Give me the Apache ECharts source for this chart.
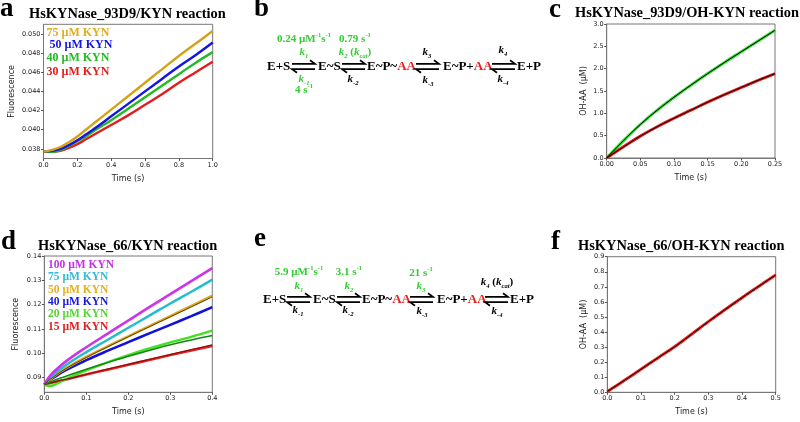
<!DOCTYPE html>
<html><head><meta charset="utf-8">
<script src="https://cdn.jsdelivr.net/npm/echarts@6/dist/echarts.min.js"></script>
<style>html,body{margin:0;padding:0;background:#fff}#c{width:800px;height:422px}</style>
</head><body><div id="c"></div>
<script>
// ---------- DATA ----------
// Panel a: HsKYNase_93D9 / KYN (fluorescence vs time)
const timeA = [0, 0.05, 0.1, 0.15, 0.2, 0.25, 0.3, 0.4, 0.5, 0.6, 0.7, 0.8, 0.9, 1.0];
const a75 = [0.0377, 0.0379, 0.0382, 0.0387, 0.0393, 0.0400, 0.0407, 0.0421, 0.0435, 0.0449, 0.0463, 0.0477, 0.0490, 0.0503];
const a50 = [0.0377, 0.0378, 0.0380, 0.0384, 0.0389, 0.0395, 0.0401, 0.0414, 0.0427, 0.0440, 0.0453, 0.0466, 0.0478, 0.0491];
const a40 = [0.0377, 0.0377, 0.0379, 0.0383, 0.0388, 0.0393, 0.0399, 0.0410, 0.0422, 0.0434, 0.0446, 0.0458, 0.0470, 0.0481];
const a30 = [0.0377, 0.0377, 0.0378, 0.0381, 0.0385, 0.0390, 0.0395, 0.0405, 0.0415, 0.0426, 0.0437, 0.0449, 0.0460, 0.0471];
const yTicksA = [0.038, 0.040, 0.042, 0.044, 0.046, 0.048, 0.050];
const legendA = ['75 µM KYN', '50 µM KYN', '40 µM KYN', '30 µM KYN'];

// Panel c: HsKYNase_93D9 / OH-KYN (OH-AA µM vs time)
const timeC = [0, 0.025, 0.05, 0.075, 0.1, 0.125, 0.15, 0.175, 0.2, 0.225, 0.25];
const cGreen = [0, 0.39, 0.75, 1.07, 1.36, 1.63, 1.89, 2.14, 2.38, 2.62, 2.86];
const cRed = [0, 0.25, 0.49, 0.70, 0.89, 1.07, 1.25, 1.42, 1.58, 1.74, 1.89];

// Panel d: HsKYNase_66 / KYN
const timeD = [0, 0.01, 0.02, 0.05, 0.1, 0.15, 0.2, 0.25, 0.3, 0.35, 0.4];
const d100 = [0.0872, 0.0900, 0.0920, 0.0965, 0.1025, 0.1080, 0.1135, 0.1190, 0.1243, 0.1297, 0.1350];
const d75 = [0.0872, 0.0893, 0.0910, 0.0950, 0.1005, 0.1055, 0.1105, 0.1155, 0.1205, 0.1253, 0.1303];
const d50 = [0.0872, 0.0888, 0.0902, 0.0937, 0.0985, 0.1028, 0.1070, 0.1112, 0.1153, 0.1195, 0.1237];
const d50fit = [0.0872, 0.0888, 0.0901, 0.0936, 0.0983, 0.1026, 0.1068, 0.1109, 0.1150, 0.1191, 0.1232];
const d40 = [0.0872, 0.0886, 0.0898, 0.0930, 0.0972, 0.1010, 0.1046, 0.1082, 0.1117, 0.1153, 0.1190];
const d20 = [0.0872, 0.0866, 0.0868, 0.0893, 0.0930, 0.0963, 0.0993, 0.1020, 0.1045, 0.1068, 0.1093];
const d20fit = [0.0872, 0.0880, 0.0887, 0.0905, 0.0935, 0.0962, 0.0988, 0.1012, 0.1035, 0.1055, 0.1073];
const d15 = [0.0872, 0.0876, 0.0880, 0.0892, 0.0913, 0.0933, 0.0953, 0.0973, 0.0993, 0.1012, 0.1030];
const d15fit = [0.0872, 0.0877, 0.0881, 0.0893, 0.0914, 0.0935, 0.0955, 0.0975, 0.0995, 0.1015, 0.1035];
const yTicksD = [0.09, 0.10, 0.11, 0.12, 0.13, 0.14];
const legendD = ['100 µM KYN', '75 µM KYN', '50 µM KYN', '40 µM KYN', '20 µM KYN', '15 µM KYN'];

// Panel f: HsKYNase_66 / OH-KYN
const timeF = [0, 0.05, 0.1, 0.15, 0.2, 0.25, 0.3, 0.35, 0.4, 0.45, 0.5];
const fRed = [0.005, 0.078, 0.153, 0.228, 0.303, 0.385, 0.469, 0.549, 0.628, 0.704, 0.779];

// ---------- STYLE ----------
const SANS = '"DejaVu Sans", Verdana, sans-serif';
const SERIF = '"Liberation Serif", "Times New Roman", serif';
const GREEN_T = '#33cc33';
const C = {gold:'#e0ad1e', blue:'#1414e6', green:'#22bb22', red:'#e21d1d', lime:'#44e022', dgreen:'#118811', dred:'#8a0f0f'};

const pairs = (t, v) => t.map((x, i) => [x, v[i]]);
function line(gi, t, v, color, width, z) {
  return {type:'line', xAxisIndex:gi, yAxisIndex:gi, data:pairs(t, v), showSymbol:false, symbol:'none',
    smooth:0.4, lineStyle:{color, width}, itemStyle:{color}, z:z || 2, silent:true};
}
function xAx(gi, min, max, interval, dec) {
  return {type:'value', gridIndex:gi, min, max, interval, name:'Time (s)', nameLocation:'middle', nameGap:16,
    nameTextStyle:{fontFamily:SANS, fontSize:8, color:'#222'},
    axisLine:{show:true, onZero:false, lineStyle:{color:'#777', width:1}},
    axisTick:{show:true, inside:false, length:2.5, lineStyle:{color:'#555'}},
    axisLabel:{fontFamily:SANS, fontSize:6.5, color:'#222', margin:3, showMaxLabel:true, showMinLabel:true,
      formatter:v => v.toFixed(dec)},
    splitLine:{show:false}};
}
function yAx(gi, min, max, interval, dec, name, gap, custom) {
  const ax = {type:'value', gridIndex:gi, min, max, name, nameLocation:'middle', nameGap:gap,
    nameTextStyle:{fontFamily:SANS, fontSize:8, color:'#222'},
    axisLine:{show:true, onZero:false, lineStyle:{color:'#777', width:1}},
    axisTick:{show:true, inside:false, length:2.5, lineStyle:{color:'#555'}},
    axisLabel:{fontFamily:SANS, fontSize:6.5, color:'#222', margin:3, showMaxLabel:true, showMinLabel:true,
      formatter:v => v.toFixed(dec)},
    splitLine:{show:false}};
  if (custom) { ax.axisLabel.customValues = custom; ax.axisTick.customValues = custom; }
  else ax.interval = interval;
  return ax;
}
const gridStyle = {show:true, borderColor:'#777', borderWidth:1, containLabel:false};

// ---------- TEXT / SCHEME GRAPHICS ----------
const g = [];
function txt(x, y, text, font, fill, align) {
  g.push({type:'text', silent:true, style:{x, y, text, font, fill,
    align:align || 'left', textAlign:align || 'left', verticalAlign:'middle', textVerticalAlign:'middle'}});
}
function rich(x, y, text, fill, size, align) {
  const f = SERIF;
  g.push({type:'text', silent:true, style:{x, y, text, fill, align:align || 'center', textAlign:align || 'center',
    verticalAlign:'middle', textVerticalAlign:'middle', fontFamily:f, fontSize:size, fontWeight:'bold', lineHeight:size + 4,
    rich:{
      n:{fontFamily:f, fontSize:size, fontWeight:'bold', fill, lineHeight:size + 4},
      i:{fontFamily:f, fontSize:size, fontWeight:'bold', fontStyle:'italic', fill, lineHeight:size + 4},
      r:{fontFamily:f, fontSize:size, fontWeight:'bold', fill:'#ee1c1c', lineHeight:size + 4},
      sup:{fontFamily:f, fontSize:size * 0.6, fontWeight:'bold', fill, verticalAlign:'top', lineHeight:size * 0.6 + 1},
      sub:{fontFamily:f, fontSize:size * 0.6, fontWeight:'bold', fontStyle:'italic', fill, verticalAlign:'bottom', lineHeight:size * 0.6 + 1}
    }}});
}
function harpoon(x1, x2, yc) {
  const st = {stroke:'#000', lineWidth:1.7, fill:null, lineJoin:'miter'};
  g.push({type:'polyline', silent:true, shape:{points:[[x1, yc - 2.6], [x2, yc - 2.6], [x2 - 5, yc - 6.2]]}, style:st});
  g.push({type:'polyline', silent:true, shape:{points:[[x2, yc + 2.6], [x1, yc + 2.6], [x1 + 5, yc + 6.2]]}, style:st});
}

// panel letters
const LET = 'bold 27px ' + SERIF;
txt(0, 9, 'a', LET, '#000');
txt(254, 9, 'b', LET, '#000');
txt(549, 10, 'c', LET, '#000');
txt(1, 242, 'd', LET, '#000');
txt(254, 239, 'e', LET, '#000');
txt(551, 242, 'f', LET, '#000');

// titles
const TIT = 'bold 14.4px ' + SERIF;
txt(29, 14, 'HsKYNase_93D9/KYN reaction', TIT, '#000');
txt(575, 13, 'HsKYNase_93D9/OH-KYN reaction', TIT, '#000');
txt(38, 246.5, 'HsKYNase_66/KYN reaction', TIT, '#000');
txt(578, 246.5, 'HsKYNase_66/OH-KYN reaction', TIT, '#000');

// in-plot legends
const LA = 'bold 12px ' + SERIF;
const colA = [C.gold, C.blue, C.green, C.red];
const yA = [32.5, 45, 58, 71.5], xA = [46.5, 49.5, 46.5, 46.5];
legendA.forEach((s, i) => txt(xA[i], yA[i], s, LA, colA[i]));
const LD = 'bold 11.5px ' + SERIF;
const colD = ['#c233e6', '#33bcd6', '#e8b020', '#1818e0', '#55d633', '#e02020'];
const yD = [265, 277.4, 289.8, 302.2, 314.4, 326.8];
legendD.forEach((s, i) => txt(48, yD[i], s, LD, colD[i]));

// scheme b
const SP = 13;
const rowB = 66.5;
rich(267, rowB, '{n|E+S}', '#000', SP, 'left');
harpoon(292, 315, rowB);
rich(318, rowB, '{n|E~S}', '#000', SP, 'left');
harpoon(342, 365, rowB);
rich(367, rowB, '{n|E~P~}{r|AA}', '#000', SP, 'left');
harpoon(416, 439, rowB);
rich(443, rowB, '{n|E~P+}{r|AA}', '#000', SP, 'left');
harpoon(492, 515, rowB);
rich(517, rowB, '{n|E+P}', '#000', SP, 'left');
rich(304, 39.5, '{n|0.24 µM}{sup|-1}{n|s}{sup|-1}', GREEN_T, 11);
rich(304, 52, '{i|k}{sub|1}', GREEN_T, 11);
rich(304, 79, '{i|k}{sub|-1}', GREEN_T, 11);
rich(304, 90.5, '{n|4 s}{sup|-1}', GREEN_T, 11);
rich(355, 39.5, '{n|0.79 s}{sup|-1}', GREEN_T, 11);
rich(355, 52, '{i|k}{sub|2}{n| (}{i|k}{sub|cat}{n|)}', GREEN_T, 11);
rich(353, 79, '{i|k}{sub|-2}', '#000', 11);
rich(427, 52, '{i|k}{sub|3}', '#000', 11);
rich(428, 80, '{i|k}{sub|-3}', '#000', 11);
rich(503, 50.5, '{i|k}{sub|4}', '#000', 11);
rich(503, 79, '{i|k}{sub|-4}', '#000', 11);

// scheme e
const rowE = 299.5;
rich(263, rowE, '{n|E+S}', '#000', SP, 'left');
harpoon(287, 310, rowE);
rich(313, rowE, '{n|E~S}', '#000', SP, 'left');
harpoon(337, 360, rowE);
rich(362, rowE, '{n|E~P~}{r|AA}', '#000', SP, 'left');
harpoon(410, 433, rowE);
rich(437, rowE, '{n|E~P+}{r|AA}', '#000', SP, 'left');
harpoon(485, 508, rowE);
rich(510, rowE, '{n|E+P}', '#000', SP, 'left');
rich(299, 272, '{n|5.9 µM}{sup|-1}{n|s}{sup|-1}', GREEN_T, 11);
rich(299, 286, '{i|k}{sub|1}', GREEN_T, 11);
rich(349, 272, '{n|3.1 s}{sup|-1}', GREEN_T, 11);
rich(349, 286, '{i|k}{sub|2}', GREEN_T, 11);
rich(421, 273, '{n|21 s}{sup|-1}', GREEN_T, 11);
rich(421, 286, '{i|k}{sub|3}', GREEN_T, 11);
rich(497, 282, '{i|k}{sub|4}{n| (}{i|k}{sub|cat}{n|)}', '#000', 11);
rich(298, 310.5, '{i|k}{sub|-1}', '#000', 11);
rich(348, 310.5, '{i|k}{sub|-2}', '#000', 11);
rich(422, 311.5, '{i|k}{sub|-3}', '#000', 11);
rich(497, 311.5, '{i|k}{sub|-4}', '#000', 11);

// ---------- CHART ----------
const chart = echarts.init(document.getElementById('c'), null, {renderer:'canvas'});
chart.setOption({
  animation:false,
  backgroundColor:'#fff',
  grid:[
    Object.assign({left:43.5, top:24.3, width:169.2, height:134.2}, gridStyle),
    Object.assign({left:606.7, top:24, width:168.3, height:134}, gridStyle),
    Object.assign({left:44.3, top:256, width:168, height:136.3}, gridStyle),
    Object.assign({left:607.3, top:256.7, width:168.4, height:135.6}, gridStyle)
  ],
  xAxis:[
    xAx(0, 0, 1, 0.2, 1),
    xAx(1, 0, 0.25, 0.05, 2),
    xAx(2, 0, 0.4, 0.1, 1),
    xAx(3, 0, 0.5, 0.1, 1)
  ],
  yAxis:[
    yAx(0, 0.037, 0.051, null, 3, 'Fluorescence', 28, yTicksA),
    yAx(1, 0, 3, 0.5, 1, 'OH-AA  (µM)', 19),
    yAx(2, 0.084, 0.14, null, 2, 'Fluorescence', 24, yTicksD),
    yAx(3, 0, 0.9, 0.1, 1, 'OH-AA  (µM)', 19)
  ],
  series:[
    line(0, timeA, a30, C.red, 2.4),
    line(0, timeA, a40, C.green, 2.4),
    line(0, timeA, a50, C.blue, 2.4),
    line(0, timeA, a75, '#d4a219', 2.4),
    line(1, timeC, cGreen, '#33dd33', 3),
    line(1, timeC, cGreen, '#000', 1, 5),
    line(1, timeC, cRed, '#e81e1e', 3),
    line(1, timeC, cRed, '#000', 1, 5),
    line(2, timeD, d15, '#ee2222', 2.6),
    line(2, timeD, d15fit, C.dred, 1.2, 5),
    line(2, timeD, d20, C.lime, 2.4),
    line(2, timeD, d20fit, C.dgreen, 1.5, 5),
    line(2, timeD, d40, '#1111dd', 2.6),
    line(2, timeD, d50, '#e0aa22', 2.6),
    line(2, timeD, d50fit, '#5a4000', 1, 5),
    line(2, timeD, d75, '#22bccc', 2.4),
    line(2, timeD, d100, '#cc33ee', 2.6),
    line(3, timeF, fRed, '#ee2020', 3),
    line(3, timeF, fRed, '#000', 1, 5)
  ],
  graphic:g
});
</script></body></html>
